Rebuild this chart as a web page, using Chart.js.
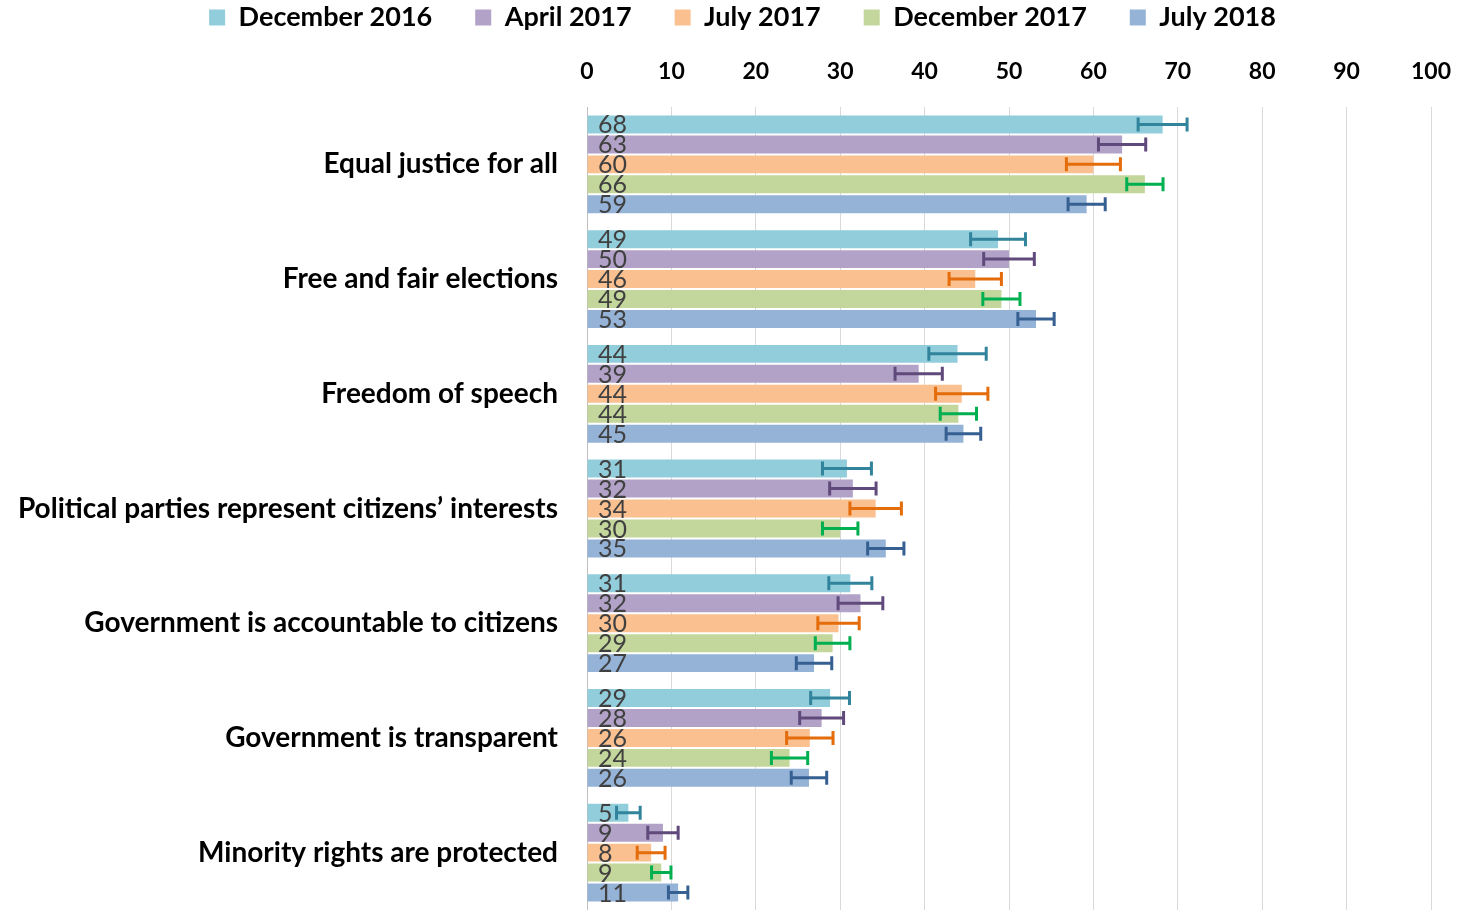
<!DOCTYPE html>
<html>
<head>
<meta charset="utf-8">
<script src="https://cdn.jsdelivr.net/npm/chart.js@4/dist/chart.umd.min.js"></script>
<style>
  html, body { margin: 0; padding: 0; background: #fff; }
  #wrap { width: 1459px; height: 910px; }
</style>
</head>
<body>
<div id="wrap"><canvas id="chart" width="1459" height="910"></canvas></div>
<script>
const categories = [
  'Equal justice for all',
  'Free and fair elections',
  'Freedom of speech',
  'Political parties represent citizens\u2019 interests',
  'Government is accountable to citizens',
  'Government is transparent',
  'Minority rights are protected',
]
const seriesNames = ['December 2016', 'April 2017', 'July 2017', 'December 2017', 'July 2018']

// bar values (labels show them rounded)
const dec2016 = [68.2, 48.7, 43.9, 30.8, 31.2, 28.8, 4.9]
const apr2017 = [63.4, 50.0, 39.3, 31.5, 32.4, 27.8, 9.0]
const jul2017 = [60.0, 46.0, 44.4, 34.2, 29.8, 26.4, 7.6]
const dec2017 = [66.1, 49.1, 44.0, 30.0, 29.1, 24.0, 8.8]
const jul2018 = [59.2, 53.2, 44.6, 35.4, 26.9, 26.3, 10.8]

// +/- margins of the error bars
const dec2016Err = [2.9, 3.25, 3.4, 2.9, 2.55, 2.3, 1.4]
const apr2017Err = [2.8, 3.0, 2.8, 2.75, 2.65, 2.6, 1.8]
const jul2017Err = [3.2, 3.1, 3.1, 3.05, 2.45, 2.75, 1.65]
const dec2017Err = [2.15, 2.2, 2.15, 2.1, 2.05, 2.15, 1.15]
const jul2018Err = [2.2, 2.15, 2.05, 2.15, 2.1, 2.1, 1.15]

const xTicks = [0, 10, 20, 30, 40, 50, 60, 70, 80, 90, 100]

const barColors = ['#92CDDC', '#B2A2C7', '#FAC090', '#C3D69B', '#95B3D7']
const errColors = ['#31849B', '#604A7B', '#E46C0A', '#00B050', '#376092']
const values = [dec2016, apr2017, jul2017, dec2017, jul2018]
const margins = [dec2016Err, apr2017Err, jul2017Err, dec2017Err, jul2018Err]

const FONT = 'Lato, "Noto Sans", sans-serif'

// legend sits a bit right of the canvas centre in the original
const legendShift = {
  id: 'legendShift',
  afterLayout(chart) {
    chart.legend.left += 27
    chart.legend.right += 27
  },
}

const valueLabels = {
  id: 'valueLabels',
  afterDatasetsDraw(chart) {
    const { ctx, scales: { x } } = chart
    ctx.save()
    ctx.font = '25px ' + FONT
    ctx.fillStyle = '#404040'
    ctx.textBaseline = 'middle'
    ctx.textAlign = 'left'
    chart.data.datasets.forEach((ds, i) => {
      chart.getDatasetMeta(i).data.forEach((bar, j) => {
        ctx.fillText(String(Math.round(ds.data[j])), x.getPixelForValue(0) + 11, bar.y + 1)
      })
    })
    ctx.restore()
  },
}

const errorBars = {
  id: 'errorBars',
  afterDatasetsDraw(chart) {
    const { ctx, scales: { x } } = chart
    ctx.save()
    ctx.lineWidth = 3
    chart.data.datasets.forEach((ds, i) => {
      ctx.strokeStyle = errColors[i]
      chart.getDatasetMeta(i).data.forEach((bar, j) => {
        const v = ds.data[j]
        const m = margins[i][j]
        const x1 = x.getPixelForValue(v - m)
        const x2 = x.getPixelForValue(v + m)
        const y = bar.y
        const h = 7
        ctx.beginPath()
        ctx.moveTo(x1, y); ctx.lineTo(x2, y)
        ctx.moveTo(x1, y - h); ctx.lineTo(x1, y + h)
        ctx.moveTo(x2, y - h); ctx.lineTo(x2, y + h)
        ctx.stroke()
      })
    })
    ctx.restore()
  },
}

const config = {
  type: 'bar',
  data: {
    labels: categories,
    datasets: seriesNames.map((name, i) => ({
      label: name,
      data: values[i],
      backgroundColor: barColors[i],
      borderWidth: 0,
      barPercentage: 0.9,
      categoryPercentage: 0.87,
    })),
  },
  options: {
    indexAxis: 'y',
    responsive: false,
    animation: false,
    layout: { padding: { left: 0, right: 28, top: -39, bottom: 0 } },
    plugins: {
      legend: {
        display: true,
        position: 'top',
        labels: {
          boxWidth: 16,
          boxHeight: 16,
          padding: 43,
          color: '#000',
          font: { family: FONT, size: 27, weight: 'bold' },
        },
      },
      tooltip: { enabled: false },
    },
    scales: {
      x: {
        position: 'top',
        min: 0,
        max: 100,
        afterBuildTicks: (scale) => { scale.ticks = xTicks.map(v => ({ value: v })) },
        afterFit: (scale) => {
          scale.height = 66
          scale.paddingLeft = 0
          scale.paddingRight = 0
        },
        grid: { color: '#D9D9D9', lineWidth: 1, drawTicks: false },
        border: { display: false },
        ticks: {
          padding: 22,
          color: '#000',
          font: { family: FONT, size: 23, weight: 'bold' },
        },
      },
      y: {
        afterFit: (scale) => {
          scale.width = 587
          scale.paddingTop = 0
          scale.paddingBottom = 0
        },
        grid: { display: false, drawTicks: false },
        border: { display: true, color: '#BFBFBF', width: 1 },
        ticks: {
          padding: 29,
          color: '#000',
          font: { family: FONT, size: 28, weight: 'bold' },
        },
      },
    },
  },
  plugins: [legendShift, valueLabels, errorBars],
}

new Chart(document.getElementById('chart'), config)
</script>
</body>
</html>
